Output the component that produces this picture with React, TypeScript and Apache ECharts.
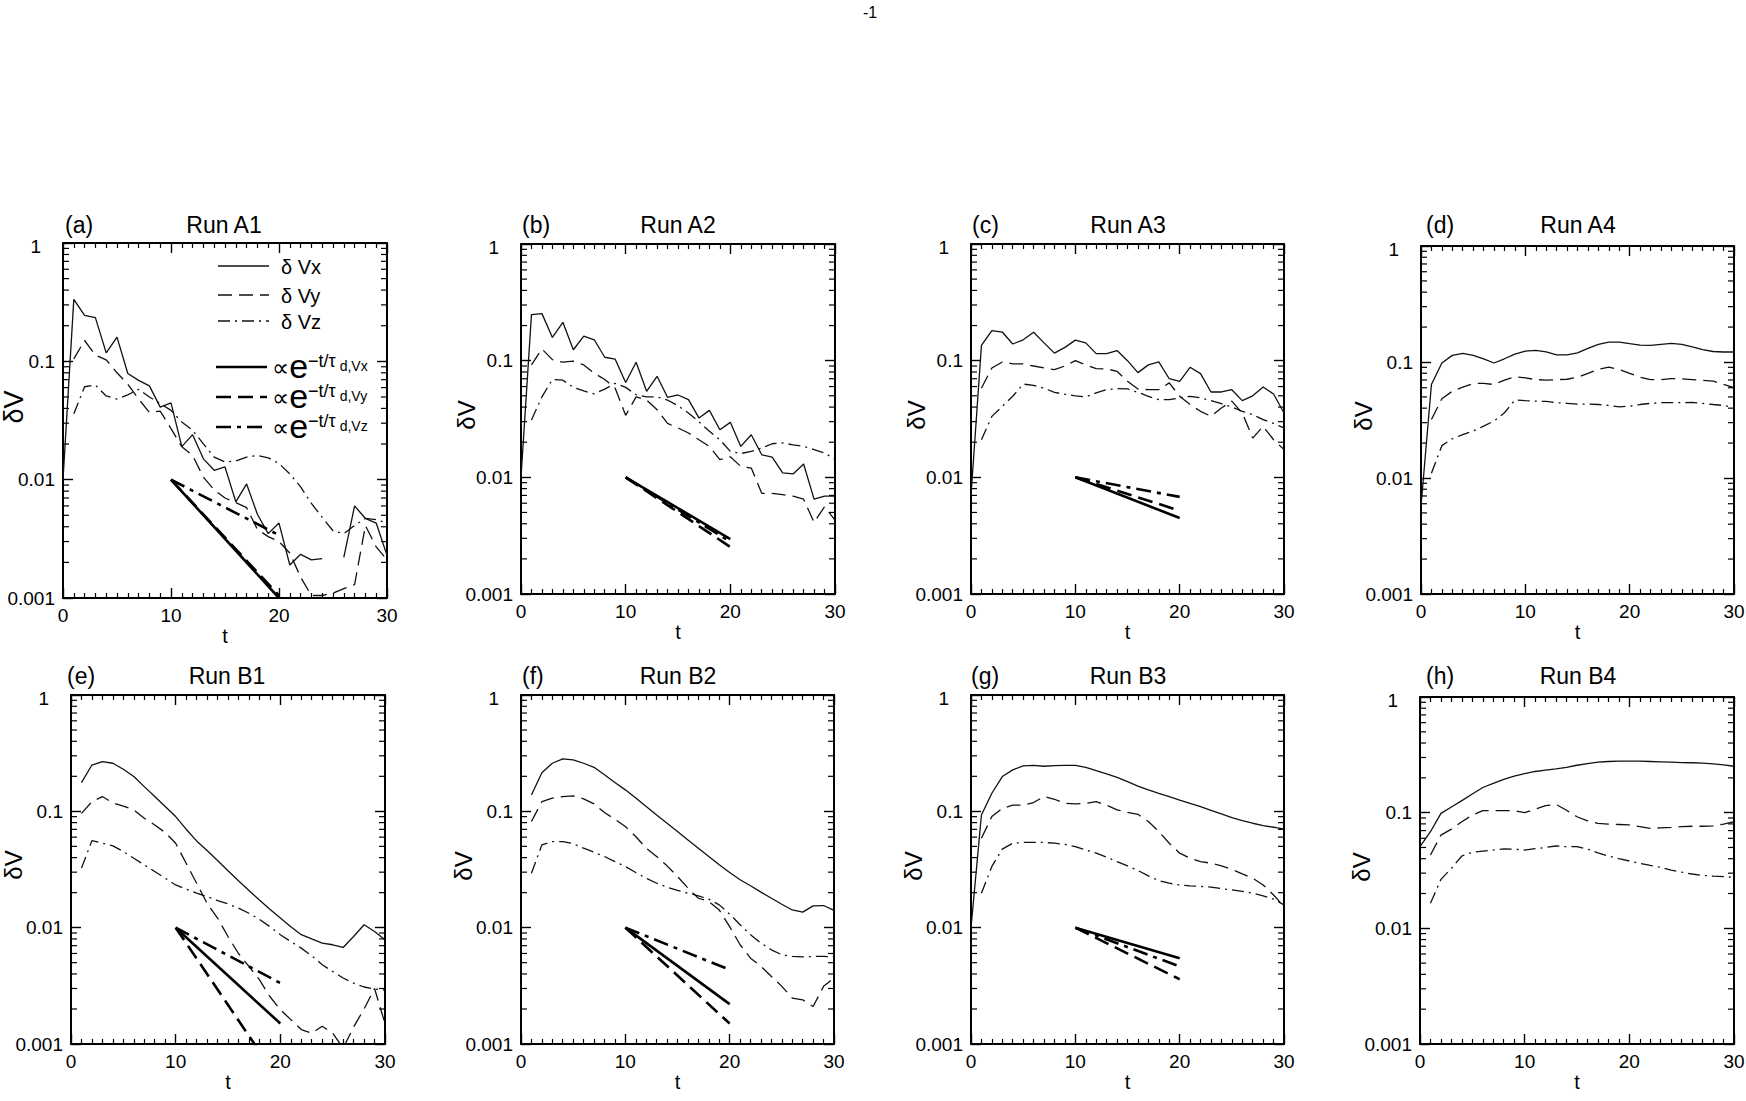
import React, { useEffect, useRef } from 'react';
import * as echarts from 'echarts';

// ---------------- DATA ----------------
const T = [0, 1, 2, 3, 4, 5, 6, 7, 8, 9, 10, 11, 12, 13, 14, 15, 16, 17, 18, 19, 20, 21, 22, 23, 24, 25, 26, 27, 28, 29, 30];
const FIT_T = [10, 20];
const FIT_START = 0.01;
const X_TICKS = [0, 10, 20, 30];
const Y_TICK_LABELS = ['0.001', '0.01', '0.1', '1'];
const MINOR_Y = [
  0.002, 0.003, 0.004, 0.005, 0.006, 0.007, 0.008, 0.009,
  0.02, 0.03, 0.04, 0.05, 0.06, 0.07, 0.08, 0.09,
  0.2, 0.3, 0.4, 0.5, 0.6, 0.7, 0.8, 0.9,
];

const PANEL_LETTERS = ['(a)', '(b)', '(c)', '(d)', '(e)', '(f)', '(g)', '(h)'];
const PANEL_TITLES = ['Run A1', 'Run A2', 'Run A3', 'Run A4', 'Run B1', 'Run B2', 'Run B3', 'Run B4'];
const Y_NAME = 'δV';
const X_NAME = 't';
const LEGEND_THIN = ['δ Vx', 'δ Vy', 'δ Vz'];
const LEGEND_SUB = ['d,Vx', 'd,Vy', 'd,Vz'];

const A1_VX = [0.01, 0.334, 0.245, 0.234, 0.118, 0.16, 0.079, 0.069, 0.062, 0.041, 0.0445, 0.019, 0.024, 0.015, 0.012, 0.0128, 0.0065, 0.0092, 0.0051, 0.0035, 0.0043, 0.0019, 0.00234, 0.0021, 0.00215, null, 0.0022, 0.006, 0.0047, 0.0043, 0.0023];
const A1_VY = [null, 0.105, 0.15, 0.113, 0.103, 0.08, 0.064, 0.048, 0.037, 0.038, 0.027, 0.019, 0.016, 0.0105, 0.0082, 0.007, 0.0064, 0.0058, 0.0038, 0.0033, 0.003, 0.0024, 0.0015, 0.00105, 0.00105, 0.0011, 0.0012, 0.0013, 0.0041, 0.0027, 0.0021];
const A1_VZ = [null, 0.036, 0.061, 0.063, 0.051, 0.048, 0.052, 0.058, 0.05, 0.044, 0.0385, 0.0307, 0.0261, 0.0201, 0.0155, 0.0141, 0.0144, 0.0155, 0.016, 0.0153, 0.0137, 0.0112, 0.0087, 0.0063, 0.0048, 0.0037, 0.0035, 0.0041, 0.0047, 0.0046, 0.0043];

const A2_VX = [0.01, 0.248, 0.253, 0.158, 0.213, 0.124, 0.162, 0.151, 0.107, 0.103, 0.065, 0.097, 0.0546, 0.0735, 0.0485, 0.0508, 0.0463, 0.0323, 0.0375, 0.0256, 0.0296, 0.0184, 0.0232, 0.0156, 0.0149, 0.0109, 0.0107, 0.013, 0.0065, 0.0069, 0.0069];
const A2_VY = [null, 0.092, 0.126, 0.102, 0.097, 0.099, 0.092, 0.078, 0.069, 0.058, 0.034, 0.049, 0.046, 0.038, 0.029, 0.0265, 0.024, 0.021, 0.0184, 0.0142, 0.015, 0.0124, 0.012, 0.0073, 0.0073, 0.0071, 0.0069, 0.0065, 0.0041, 0.0056, 0.0043];
const A2_VZ = [null, 0.031, 0.049, 0.069, 0.068, 0.059, 0.055, 0.052, 0.057, 0.064, 0.059, 0.051, 0.049, 0.049, 0.046, 0.041, 0.0356, 0.03, 0.0248, 0.021, 0.0167, 0.016, 0.0167, 0.0178, 0.0194, 0.0197, 0.019, 0.0184, 0.0173, 0.0162, 0.0142];

const A3_VX = [0.007, 0.135, 0.181, 0.176, 0.139, 0.151, 0.175, 0.142, 0.116, 0.13, 0.15, 0.142, 0.115, 0.115, 0.122, 0.1, 0.079, 0.092, 0.0975, 0.07, 0.0665, 0.0877, 0.0774, 0.0539, 0.0539, 0.0564, 0.0454, 0.05, 0.0595, 0.0518, 0.0356];
const A3_VY = [null, 0.058, 0.0865, 0.0975, 0.094, 0.094, 0.09, 0.0865, 0.0838, 0.09, 0.1, 0.092, 0.0855, 0.085, 0.081, 0.0665, 0.0572, 0.0564, 0.0564, 0.0645, 0.0495, 0.042, 0.0368, 0.0334, 0.0393, 0.045, 0.0356, 0.0217, 0.0274, 0.021, 0.0173];
const A3_VZ = [null, 0.021, 0.0333, 0.0406, 0.0495, 0.063, 0.0615, 0.058, 0.0535, 0.0515, 0.05, 0.0488, 0.053, 0.0564, 0.0575, 0.0572, 0.0535, 0.0495, 0.0463, 0.0463, 0.048, 0.0495, 0.048, 0.0454, 0.0428, 0.04, 0.0368, 0.0345, 0.0312, 0.029, 0.0265];

const A4_VX = [0.0057, 0.064, 0.098, 0.114, 0.1186, 0.114, 0.1066, 0.098, 0.1066, 0.117, 0.124, 0.126, 0.122, 0.1154, 0.115, 0.12, 0.131, 0.142, 0.1486, 0.1486, 0.144, 0.14, 0.139, 0.142, 0.145, 0.142, 0.135, 0.128, 0.1232, 0.122, 0.122];
const A4_VY = [null, 0.0319, 0.0482, 0.056, 0.0607, 0.0653, 0.0653, 0.064, 0.0698, 0.0746, 0.073, 0.0705, 0.0698, 0.0705, 0.071, 0.074, 0.0797, 0.0863, 0.0904, 0.0863, 0.0797, 0.074, 0.0705, 0.0705, 0.072, 0.0715, 0.0705, 0.0695, 0.0685, 0.064, 0.06];
const A4_VZ = [null, 0.011, 0.019, 0.0218, 0.0237, 0.0254, 0.028, 0.031, 0.0365, 0.047, 0.0464, 0.046, 0.0457, 0.0446, 0.044, 0.0434, 0.0434, 0.043, 0.0422, 0.0411, 0.0416, 0.043, 0.044, 0.0446, 0.0446, 0.0446, 0.0448, 0.044, 0.043, 0.0422, 0.0406];

const B1_VX = [null, 0.1766, 0.25, 0.267, 0.259, 0.23, 0.199, 0.163, 0.134, 0.11, 0.0902, 0.0702, 0.0557, 0.046, 0.0378, 0.0308, 0.0253, 0.0209, 0.0173, 0.0144, 0.0121, 0.0102, 0.0087, 0.008, 0.00736, 0.00713, 0.00676, 0.0084, 0.0106, 0.00927, 0.00787];
const B1_VY = [null, 0.096, 0.121, 0.134, 0.118, 0.111, 0.103, 0.0873, 0.0764, 0.0657, 0.0532, 0.0358, 0.0241, 0.0162, 0.0121, 0.0084, 0.006, 0.00464, 0.00357, 0.00256, 0.00197, 0.00162, 0.00133, 0.00124, 0.00142, 0.00124, 0.00092, 0.0014, 0.002, 0.003, 0.0015];
const B1_VZ = [null, 0.0325, 0.056, 0.0532, 0.0505, 0.0451, 0.0395, 0.0347, 0.0304, 0.0266, 0.0233, 0.0214, 0.0198, 0.0185, 0.0171, 0.016, 0.0147, 0.0133, 0.0118, 0.0102, 0.0087, 0.0076, 0.00667, 0.00573, 0.0048, 0.0042, 0.00369, 0.00334, 0.00309, 0.00297, 0.0029];

const B2_VX = [null, 0.138, 0.215, 0.259, 0.282, 0.277, 0.259, 0.239, 0.206, 0.177, 0.153, 0.13, 0.11, 0.0931, 0.079, 0.067, 0.0568, 0.0482, 0.0409, 0.0347, 0.0298, 0.0258, 0.0229, 0.0202, 0.0179, 0.0159, 0.0142, 0.0136, 0.0154, 0.0155, 0.0141];
const B2_VY = [null, 0.0817, 0.121, 0.13, 0.134, 0.1358, 0.128, 0.116, 0.0976, 0.0855, 0.074, 0.0607, 0.0482, 0.0409, 0.034, 0.0275, 0.0219, 0.0179, 0.0168, 0.0142, 0.0102, 0.00713, 0.00547, 0.00464, 0.00381, 0.00313, 0.00248, 0.0024, 0.0021, 0.00313, 0.0037];
const B2_VZ = [null, 0.0294, 0.0515, 0.055, 0.055, 0.0528, 0.0482, 0.0445, 0.0409, 0.037, 0.0336, 0.0298, 0.0266, 0.0241, 0.0223, 0.0209, 0.0198, 0.0188, 0.0176, 0.0157, 0.0131, 0.0106, 0.0087, 0.00736, 0.00645, 0.00585, 0.00566, 0.0056, 0.00566, 0.00566, 0.0056];

const B3_VX = [0.01, 0.093, 0.143, 0.199, 0.227, 0.246, 0.248, 0.244, 0.247, 0.248, 0.248, 0.239, 0.224, 0.21, 0.196, 0.18, 0.165, 0.153, 0.143, 0.134, 0.125, 0.117, 0.11, 0.102, 0.0952, 0.0884, 0.0833, 0.079, 0.0755, 0.073, 0.0702];
const B3_VY = [null, 0.0587, 0.0902, 0.106, 0.113, 0.113, 0.119, 0.134, 0.127, 0.117, 0.116, 0.117, 0.121, 0.113, 0.103, 0.098, 0.0943, 0.0817, 0.067, 0.0532, 0.0437, 0.0395, 0.037, 0.0358, 0.034, 0.0318, 0.029, 0.0266, 0.0233, 0.0191, 0.0152];
const B3_VZ = [null, 0.0198, 0.0336, 0.0473, 0.0532, 0.054, 0.054, 0.054, 0.0532, 0.052, 0.0498, 0.0466, 0.0437, 0.0404, 0.037, 0.034, 0.031, 0.0279, 0.0254, 0.0241, 0.0233, 0.0229, 0.0226, 0.0223, 0.0217, 0.0211, 0.0205, 0.0198, 0.0188, 0.0176, 0.0157];

const B4_VX = [0.0508, 0.0684, 0.0985, 0.112, 0.127, 0.145, 0.165, 0.179, 0.194, 0.207, 0.218, 0.227, 0.233, 0.239, 0.246, 0.257, 0.266, 0.273, 0.277, 0.279, 0.279, 0.279, 0.277, 0.275, 0.273, 0.271, 0.27, 0.268, 0.264, 0.259, 0.252];
const B4_VY = [null, 0.043, 0.064, 0.0721, 0.0835, 0.0953, 0.104, 0.104, 0.104, 0.104, 0.1, 0.107, 0.115, 0.1177, 0.105, 0.0922, 0.085, 0.0807, 0.0797, 0.079, 0.0783, 0.0757, 0.0731, 0.074, 0.0746, 0.0757, 0.0763, 0.0763, 0.077, 0.0797, 0.0835];
const B4_VZ = [null, 0.0165, 0.0265, 0.033, 0.0422, 0.0454, 0.0466, 0.0475, 0.0486, 0.0484, 0.0475, 0.0488, 0.0501, 0.0515, 0.0508, 0.0508, 0.0484, 0.045, 0.0422, 0.04, 0.0382, 0.0365, 0.035, 0.0337, 0.0319, 0.0306, 0.0295, 0.0287, 0.0283, 0.028, 0.0276];

const PANEL_VX = [A1_VX, A2_VX, A3_VX, A4_VX, B1_VX, B2_VX, B3_VX, B4_VX];
const PANEL_VY = [A1_VY, A2_VY, A3_VY, A4_VY, B1_VY, B2_VY, B3_VY, B4_VY];
const PANEL_VZ = [A1_VZ, A2_VZ, A3_VZ, A4_VZ, B1_VZ, B2_VZ, B3_VZ, B4_VZ];

// exponential fits: value at t = 20 (start at t = 10, 0.01)
const FIT_END_VX = [0.001, 0.00296, 0.00448, null, 0.0015, 0.0022, 0.00547, null];
const FIT_END_VY = [0.00105, 0.00253, 0.00518, null, 0.00047, 0.0015, 0.0036, null];
const FIT_END_VZ = [0.0034, 0.0028, 0.0068, null, 0.00334, 0.00435, 0.00464, null];

// ---------------- LAYOUT ----------------
const FONT = '"Liberation Sans", Arial, Helvetica, sans-serif';
const BOXES = [
  [63, 243, 324, 355],
  [521, 244, 314, 350],
  [971, 244, 313, 350],
  [1421, 246, 313, 348],
  [71, 695, 314, 349],
  [521, 695, 313, 349],
  [971, 695, 313, 349],
  [1420, 697, 314, 347],
];
const YNAME_X = [14, 466, 916, 1363, 13, 463, 913, 1361];
const YNAME_Y = [407, 415, 415, 416, 865, 866, 866, 867];
const YNAME_SIZE = [27, 24, 24, 24, 24, 24, 24, 24];
const TITLE_X = [224, 678, 1128, 1578, 227, 678, 1128, 1578];
const LETTER_X = [65, 522, 972, 1426, 67, 522, 971, 1426];
const ROW_TITLE_Y = [225, 676];

const DASH = [14, 7];
const DASHDOT = [12, 5, 2, 5];
const THICK_DASH = [15, 7];
const THICK_DASHDOT = [15, 6, 4, 6];

function pairs(arr: (number | null)[]) {
  return T.map((t, i) => [t, arr[i] == null ? '-' : arr[i]]);
}

function fitPairs(end: number) {
  return [[FIT_T[0], FIT_START], [FIT_T[1], end]];
}

function buildOption() {
  const grid = BOXES.map((b) => ({ left: b[0], top: b[1], width: b[2], height: b[3], containLabel: false, outerBoundsMode: 'none' }));
  const xAxis: any[] = [];
  const yAxis: any[] = [];
  const axisLine = { show: true, onZero: false, lineStyle: { color: '#000', width: 2 } };
  const tick = { show: true, inside: true, length: 10, lineStyle: { color: '#000', width: 1.4 } };
  const minor = { show: true, splitNumber: 10, length: 5, lineStyle: { color: '#000', width: 1.2 } };
  BOXES.forEach((b, i) => {
    xAxis.push({
      gridIndex: i, type: 'value', position: 'bottom', min: X_TICKS[0], max: X_TICKS[X_TICKS.length - 1], interval: 10,
      name: X_NAME, nameLocation: 'middle', nameGap: 28, nameMoveOverlap: false,
      nameTextStyle: { fontSize: 20, color: '#000', fontFamily: FONT },
      axisLine, axisTick: tick, minorTick: minor,
      axisLabel: { fontSize: 19, color: '#000', fontFamily: FONT, margin: 8 },
      splitLine: { show: false }, minorSplitLine: { show: false },
    });
    xAxis.push({
      gridIndex: i, type: 'value', position: 'top', min: X_TICKS[0], max: X_TICKS[X_TICKS.length - 1], interval: 10,
      axisLine, axisTick: tick, minorTick: minor,
      axisLabel: { show: false }, splitLine: { show: false }, minorSplitLine: { show: false },
    });
    yAxis.push({
      gridIndex: i, type: 'log', logBase: 10, min: 0.001, max: 1, position: 'left',
      axisLine, axisTick: tick,
      axisLabel: {
        fontSize: 19, color: '#000', fontFamily: FONT, margin: 8,
        formatter: (v: number) => {
          const idx = Math.round(Math.log10(v)) + 3;
          const s = Y_TICK_LABELS[idx] ?? '';
          return idx === 3 ? `{one|${s}}` : s;
        },
        rich: { one: { fontSize: 19, fontFamily: FONT, color: '#000', padding: [6, 14, 0, 0] } },
      },
      splitLine: { show: false },
    });
    yAxis.push({
      gridIndex: i, type: 'log', logBase: 10, min: 0.001, max: 1, position: 'right',
      axisLine, axisTick: tick, axisLabel: { show: false }, splitLine: { show: false },
    });
  });

  const series: any[] = [];
  for (let i = 0; i < 8; i++) {
    const base = { type: 'line', xAxisIndex: 2 * i, yAxisIndex: 2 * i, symbol: 'none', showSymbol: false, clip: true, silent: true, connectNulls: false };
    series.push({ ...base, name: `${PANEL_TITLES[i]} δVx`, data: pairs(PANEL_VX[i]), lineStyle: { color: '#111', width: 1.3, type: 'solid' } });
    series.push({ ...base, name: `${PANEL_TITLES[i]} δVy`, data: pairs(PANEL_VY[i]), lineStyle: { color: '#111', width: 1.3, type: DASH } });
    series.push({ ...base, name: `${PANEL_TITLES[i]} δVz`, data: pairs(PANEL_VZ[i]), lineStyle: { color: '#111', width: 1.3, type: DASHDOT } });
    if (FIT_END_VX[i] != null) {
      series.push({ ...base, name: `${PANEL_TITLES[i]} fit Vx`, data: fitPairs(FIT_END_VX[i] as number), lineStyle: { color: '#000', width: 2.6, type: 'solid' } });
      series.push({ ...base, name: `${PANEL_TITLES[i]} fit Vy`, data: fitPairs(FIT_END_VY[i] as number), lineStyle: { color: '#000', width: 2.6, type: THICK_DASH } });
      series.push({ ...base, name: `${PANEL_TITLES[i]} fit Vz`, data: fitPairs(FIT_END_VZ[i] as number), lineStyle: { color: '#000', width: 2.6, type: THICK_DASHDOT } });
    }
    // minor log ticks on left & right edges
    series.push({
      type: 'custom', xAxisIndex: 2 * i, yAxisIndex: 2 * i, silent: true,
      data: MINOR_Y.map((v) => [X_TICKS[0], v]),
      renderItem: (_p: any, api: any) => {
        const v = api.value(1);
        const l = api.coord([X_TICKS[0], v]);
        const r = api.coord([X_TICKS[X_TICKS.length - 1], v]);
        return {
          type: 'group',
          children: [
            { type: 'line', shape: { x1: l[0], y1: l[1], x2: l[0] + 6, y2: l[1] }, style: { stroke: '#000', lineWidth: 1.2 } },
            { type: 'line', shape: { x1: r[0] - 6, y1: r[1], x2: r[0], y2: r[1] }, style: { stroke: '#000', lineWidth: 1.2 } },
          ],
        };
      },
    });
  }

  const graphic: any[] = [];
  // page number
  graphic.push({ type: 'text', x: 870, y: 12, style: { text: '-1', font: `16px ${FONT}`, fill: '#000', align: 'center', verticalAlign: 'middle' } });
  for (let i = 0; i < 8; i++) {
    const ty = ROW_TITLE_Y[i < 4 ? 0 : 1];
    graphic.push({ type: 'text', x: TITLE_X[i], y: ty, style: { text: PANEL_TITLES[i], font: `23px ${FONT}`, fill: '#000', align: 'center', verticalAlign: 'middle' } });
    graphic.push({ type: 'text', x: LETTER_X[i], y: ty, style: { text: PANEL_LETTERS[i], font: `23px ${FONT}`, fill: '#000', align: 'left', verticalAlign: 'middle' } });
    graphic.push({
      type: 'text', x: YNAME_X[i], y: YNAME_Y[i], rotation: Math.PI / 2,
      style: { text: Y_NAME, font: `${YNAME_SIZE[i]}px ${FONT}`, fill: '#000', align: 'center', verticalAlign: 'middle' },
    });
  }
  // legend in panel (a)
  const thinY = [266, 295, 321];
  const thinDash = [null, DASH, DASHDOT];
  thinY.forEach((y, k) => {
    graphic.push({ type: 'line', shape: { x1: 218, y1: y, x2: 269, y2: y }, style: { stroke: '#111', lineWidth: 1.3, lineDash: thinDash[k] || undefined } });
    graphic.push({ type: 'text', x: 281, y: y + 1, style: { text: LEGEND_THIN[k], font: `20px ${FONT}`, fill: '#000', align: 'left', verticalAlign: 'middle' } });
  });
  const thickY = [367, 397, 427];
  const thickDash = [null, THICK_DASH, THICK_DASHDOT];
  thickY.forEach((y, k) => {
    graphic.push({ type: 'line', shape: { x1: 216, y1: y, x2: 267, y2: y }, style: { stroke: '#000', lineWidth: 2.6, lineDash: thickDash[k] || undefined } });
    graphic.push({
      type: 'text', x: 272, y: y - 1,
      style: {
        text: `{p|∝}{e|e}{sup|−t/τ}{sub|${LEGEND_SUB[k]}}`,
        align: 'left', verticalAlign: 'middle', fill: '#000',
        rich: {
          p: { fontSize: 24, fontFamily: '"DejaVu Sans", sans-serif', fill: '#000', lineHeight: 24, verticalAlign: 'bottom' },
          e: { fontSize: 34, fontFamily: FONT, fill: '#000', lineHeight: 28, verticalAlign: 'middle' },
          sup: { fontSize: 18, fontFamily: FONT, fill: '#000', lineHeight: 2, verticalAlign: 'top' },
          sub: { fontSize: 14, fontFamily: FONT, fill: '#000', lineHeight: 14, verticalAlign: 'middle', padding: [0, 0, 0, 4] },
        },
      },
    });
  });

  return {
    animation: false,
    backgroundColor: '#fff',
    textStyle: { fontFamily: FONT },
    grid, xAxis, yAxis, series, graphic,
  };
}

export default function App() {
  const ref = useRef<HTMLDivElement>(null);
  useEffect(() => {
    document.body.style.margin = '0';
    if (!ref.current) return;
    const chart = echarts.init(ref.current, undefined, { renderer: 'svg' });
    chart.setOption(buildOption() as any);
    return () => chart.dispose();
  }, []);
  return <div ref={ref} style={{ width: 1746, height: 1101, position: 'absolute', left: 0, top: 0 }} />;
}
